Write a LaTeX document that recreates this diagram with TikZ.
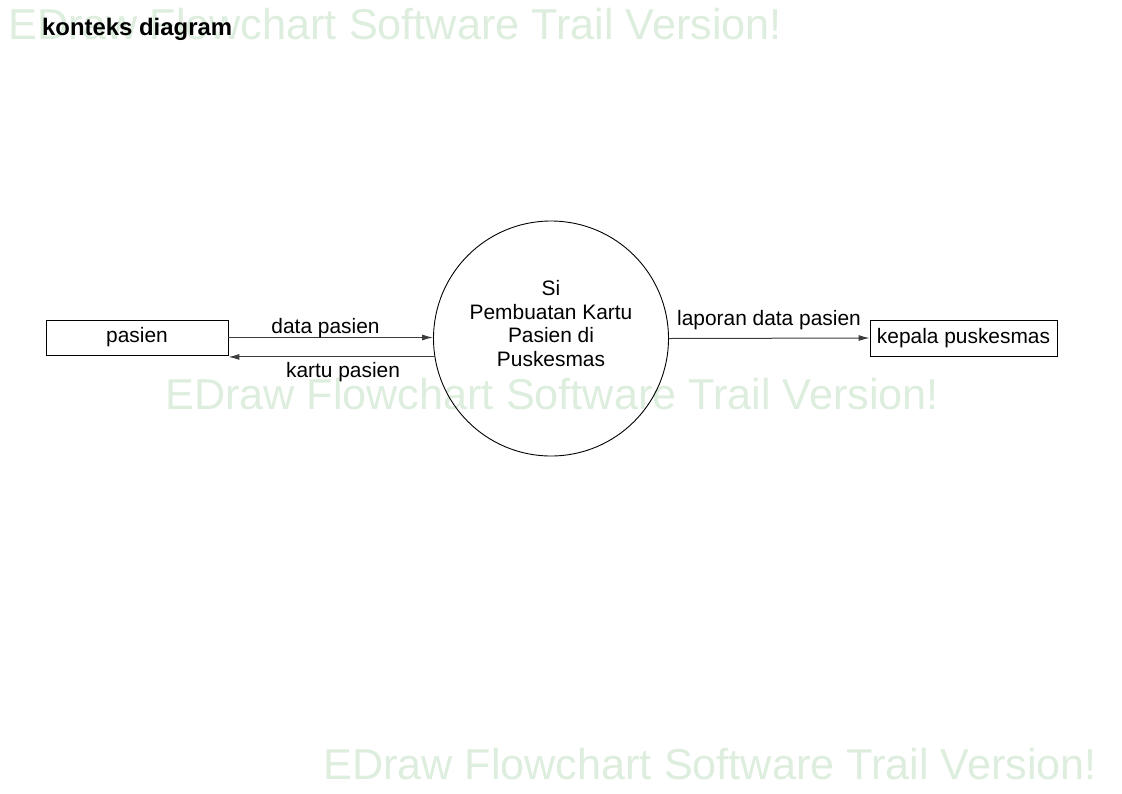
\documentclass[tikz,border=0pt]{standalone}
\usepackage{fontspec}
\setmainfont{Liberation Sans}
\usetikzlibrary{arrows.meta,calc}
\definecolor{wm}{RGB}{222,238,222}
\definecolor{ln}{RGB}{60,60,60}
\begin{document}
\begin{tikzpicture}[x=1pt,y=-1pt,
  txt/.style={font=\fontsize{20.9}{23.5}\selectfont},
  lbl/.style={txt, inner sep=0pt, anchor=base},
  entity/.style={draw=black, line width=0.9pt, txt, minimum height=35pt, inner sep=0pt},
  proc/.style={draw=black, line width=0.9pt, circle, minimum size=235pt, inner sep=0pt},
  flow/.style={draw=ln, line width=1pt, -{Latex[length=11pt,width=6pt]}},
  wmk/.style={text=wm, font=\fontsize{43.2}{48}\selectfont, inner sep=0pt, anchor=base west}]
\useasboundingbox (0,0) rectangle (1122,793);
\fill[white] (0,0) rectangle (1122,793);
% watermarks
\node[wmk] (w1) at (8,39) {EDraw Flowchart Software Trail Version!};
\node[wmk] (w2) at (165,409) {EDraw Flowchart Software Trail Version!};
\node[wmk] (w3) at (323,779) {EDraw Flowchart Software Trail Version!};
% title
\node[font=\bfseries\fontsize{23.9}{28}\selectfont, anchor=base west, inner sep=0pt] (title) at (42,35) {konteks diagram};
% nodes
\node[entity, minimum width=182pt] (pa) at (137,337.5) {pasien};
\node[entity, minimum width=187pt, minimum height=36pt] (kp) at (963.5,338) {kepala puskesmas};
\node[proc] (p) at (551,338.5) {};
\node[txt, align=center, inner sep=0pt] (pt) at (551,323.5) {Si\\Pembuatan Kartu\\Pasien di\\Puskesmas};
% flows
\draw[flow] (pa.east) -- (pa.east -| p.west);
\draw[flow] (p.189) -- (p.189 -| pa.east);
\draw[flow] (p.east) -- (kp.west);
% flow labels
\node[lbl] (l1) at (325.5,333) {data pasien};
\node[lbl] (l2) at (343,377) {kartu pasien};
\node[lbl] (l3) at (769,325) {laporan data pasien};
\end{tikzpicture}
\end{document}
